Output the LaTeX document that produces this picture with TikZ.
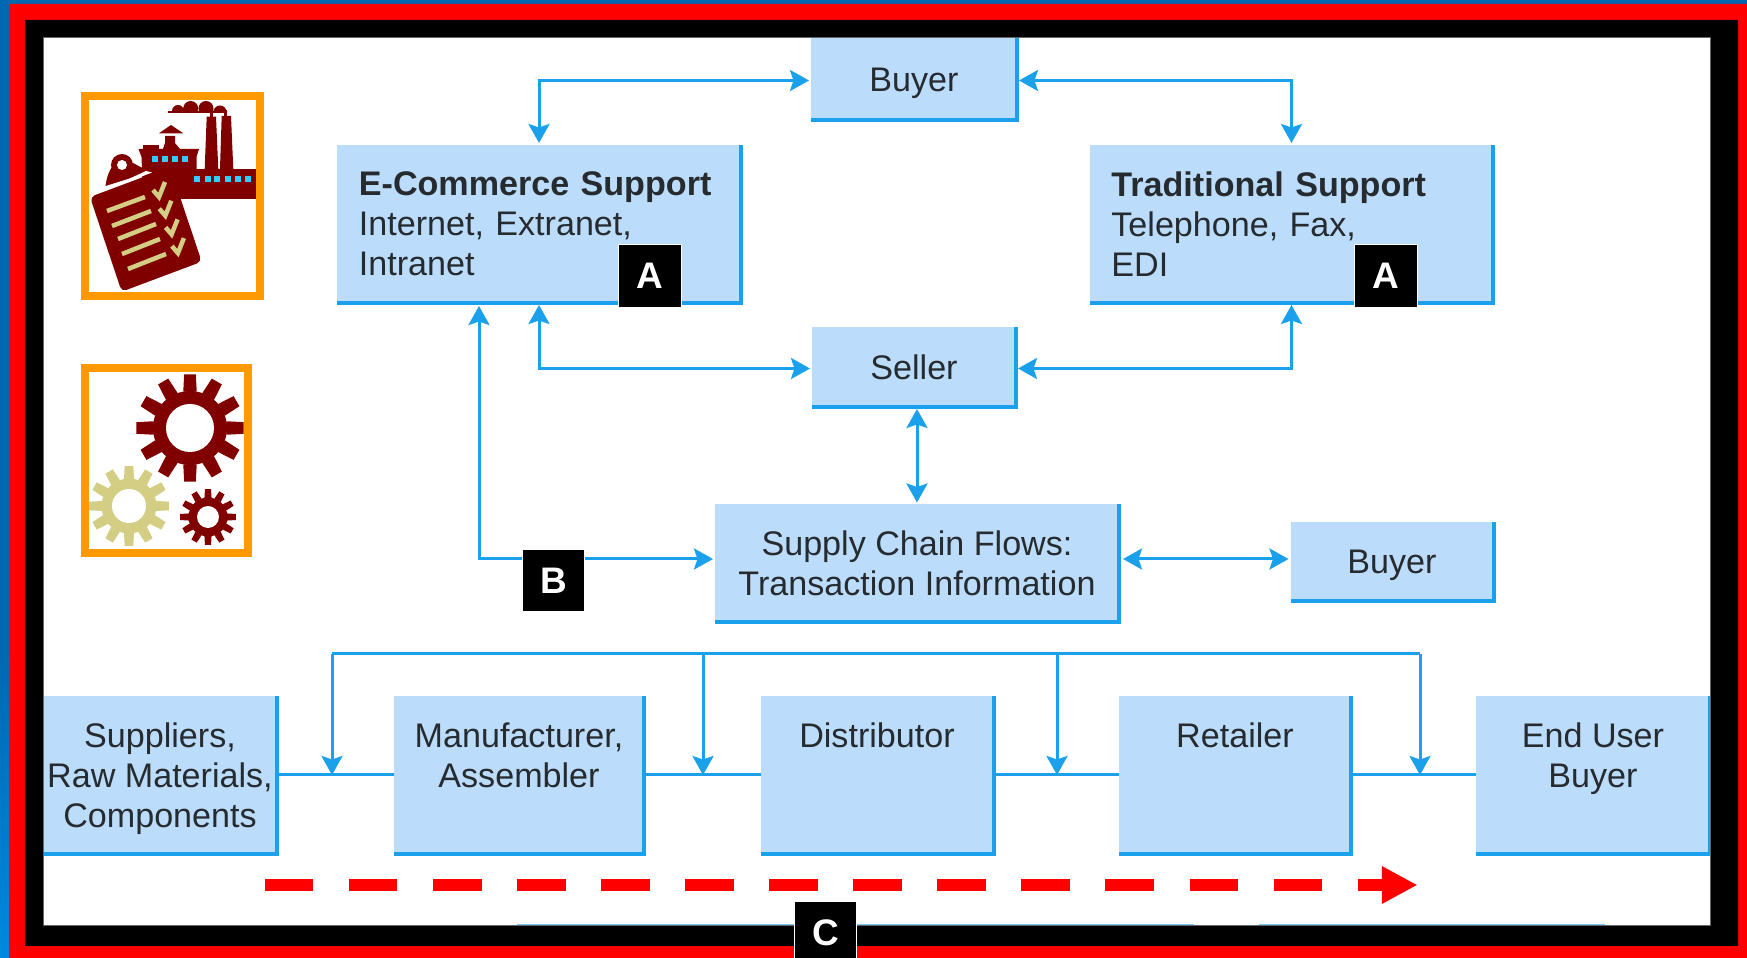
\documentclass[tikz,border=0pt]{standalone}
\usepackage{fontspec}
\setmainfont{Liberation Sans}
\usepackage{xcolor}
\usetikzlibrary{arrows.meta}
\definecolor{boxblue}{HTML}{BBDCFA}
\definecolor{linkblue}{HTML}{1BA1EC}
\definecolor{labelgrey}{HTML}{262B30}
\definecolor{deepred}{HTML}{800000}
\definecolor{khaki}{HTML}{D4CE85}
\definecolor{winblue}{HTML}{33CCFF}
\definecolor{iconorange}{HTML}{FF9900}
\definecolor{sideblue}{HTML}{0068B0}
\definecolor{sidebright}{HTML}{0088E0}
\tikzset{
 box/.style 2 args={fill=boxblue, inner sep=0, outer sep=0, text=labelgrey, align=center,
   minimum width=#1*0.01cm, minimum height=#2*0.01cm, font=\fontsize{9.7}{11.3}\selectfont},
 edge/.style={linkblue, line width=.04cm},
 link/.style={linkblue, line width=.03cm},
 conn/.style={link, >={Stealth[length=.19cm,width=.21cm,inset=.035cm]}, shorten >=.02cm, shorten <=.02cm},
 badge/.style={fill=black, draw=white, line width=.01cm, text=white, inner sep=0, minimum size=.62cm,
   font=\fontsize{10.5}{11}\selectfont\bfseries},
 iconframe/.style={iconorange, line width=.08cm},
}
\begin{document}
\begin{tikzpicture}[x=.01cm, y=-.01cm]
\useasboundingbox (0,0) rectangle (1747,958);
\fill[white] (0,0) rectangle (1747,958);
% boxes
\node[box={206}{82}, text depth=0pt] (buyerTop) at (914,79) {\raisebox{-.3pt}{Buyer}};
\node[box={404}{158}, text width=3.6cm, align=left] (ecom) at (539,224)
  {\textbf{E-Commerce Support}\\Internet, Extranet,\\Intranet};
\node[box={403}{158}, text width=3.6cm, align=left] (trad) at (1291.5,224)
  {\textbf{Traditional Support}\\Telephone, Fax,\\EDI};
\node[box={204}{80}] (seller) at (914,367) {Seller};
\node[box={404}{118}] (supply) at (917,563.5) {Supply Chain Flows:\\Transaction Information};
\node[box={203}{79}, text depth=0pt] (buyerSide) at (1392,561.5) {Buyer};
\node[box={233}{158}, text depth=0pt] (suppliers) at (160,775) {Suppliers,\\Raw Materials,\\Components};
\node[box={250}{158}] (maker) at (519,775) {Manufacturer,\\Assembler\\~};
\node[box={233}{158}] (distributor) at (877,775) {Distributor\\~\\~};
\node[box={232}{158}] (retailer) at (1235,775) {Retailer\\~\\~};
\node[box={234}{158}] (endUser) at (1593,775) {End User\\Buyer\\~};
\foreach \n in {buyerTop,ecom,trad,seller,supply,buyerSide,suppliers,maker,distributor,retailer,endUser} {
 \draw[edge] (\n.north east) |- (\n.south west);
}
% remains of the boxes under the frame
\fill[linkblue!60] (517,924) rectangle (1194,927);
\fill[linkblue!60] (1259,924) rectangle (1605,927);
% links
\coordinate (ecomIn) at (479,304);
\coordinate (supplyIn) at (715,559);
\coordinate (supplyOut) at (1121,559);
\draw[conn,<->] ([yshift=-.015cm]buyerTop.west) -| (ecom.north);
\draw[conn,<->] ([yshift=-.015cm]buyerTop.east) -| (trad.north);
\draw[conn,<->] ([yshift=-.015cm]seller.west) -| (ecom.south);
\draw[conn,<->] ([yshift=-.015cm]seller.east) -| (trad.south);
\draw[conn,<->] (supply.north |- seller.south) -- (supply.north);
\draw[conn,<->] (ecomIn) |- (supplyIn);
\draw[conn,<->] (supplyOut) -- (buyerSide.west |- supplyOut);
\draw[link] (suppliers.east) -- (maker.west);
\draw[link] (maker.east) -- (distributor.west);
\draw[link] (distributor.east) -- (retailer.west);
\draw[link] (retailer.east) -- (endUser.west);
\coordinate (busA) at (332,654);
\coordinate (busB) at (703,654);
\coordinate (busC) at (1057,654);
\coordinate (busD) at (1420,654);
\draw[link] (busA) -- (busD);
\foreach \n/\x in {A/332,B/703,C/1057,D/1420} {
 \coordinate (drop\n) at (\x,775);
 \draw[conn,->,shorten <=0pt,shorten >=0pt] (bus\n) -- (drop\n);
}
% flow arrow
\coordinate (flowStart) at (265,885);
\coordinate (flowEnd) at (1417.5,885);
\draw[red, line width=.12cm, dash pattern=on .484cm off .356cm, -{Triangle[length=.355cm,width=.35cm]}] (flowStart) -- (flowEnd);
% frame
\fill[sideblue] (0,0) rectangle (1747,4);
\fill[sideblue] (0,0) rectangle (9,650);
\shade[top color=sideblue, bottom color=sidebright] (0,650) rectangle (9,958);
\fill[red, even odd rule] (9,4) rectangle (1747,958) (25,20) rectangle (1738,946);
\fill[black, even odd rule] (25,20) rectangle (1738,946) (43,38) rectangle (1710,926);
\draw[black!60, line width=.01cm] (43,38) rectangle (1710,926);
% badges
\node[badge] (badgeA) at (650,276) {A};
\node[badge] (badgeAA) at (1386,276) {A};
\node[badge] (badgeB) at (553.5,580.5) {B};
\node[badge] (badgeC) at (825.5,933) {C};
% factory icon
\draw[iconframe] (85,96) rectangle (260,296);
\fill[deepred] (142,169) rectangle (256,199);
\fill[deepred] (138.5,149) -- (199,149) -- (196.5,157) -- (196.5,169) -- (142,169) -- (141.5,157) -- cycle;
\fill[deepred] (142.7,145.3) rectangle (159,149);
\fill[deepred] (165,136) -- (175,136) -- (175,143) -- (180,149) -- (163,149) -- (165,143) -- cycle;
\fill[deepred] (159,133.3) -- (171,125) -- (183.3,133.3) -- cycle;
\fill[deepred] (206.7,116.7) -- (216,116.7) -- (218.3,169) -- (204.7,169) -- cycle;
\fill[deepred] (221.7,116) -- (231,116) -- (233.3,169) -- (220,169) -- cycle;
\begin{scope}
\clip (165,95) rectangle (232,112.5);
\fill[deepred] (190.7,108.5) circle (7.5) (206,108.5) circle (7.5) (220,112) circle (6.5) (178,111) circle (6);
\fill[deepred] (168,111) rectangle (225,113);
\end{scope}
\fill[deepred] (210,112) rectangle (213,117);
\fill[deepred] (224,110) rectangle (227,117);
\foreach \x/\y in {155/159,165/159,175/159,185/159,197/179,208/179,217/179,228/179,238/179,248/179} {
 \fill[winblue] (\x-3,\y-3) rectangle (\x+3,\y+3);
}
% clipboard
\fill[deepred, rounded corners=.05cm] (90,197) -- (170,167) -- (201.7,261.7) -- (121.7,291.7) -- cycle;
\fill[deepred] (105.5,186) .. controls (107,175) and (110,170) .. (112,167) -- (133,163) -- (150,172) -- cycle;
\fill[deepred] (122,165) circle (11);
\fill[white] (122,165) circle (5);
\fill[white] (106,189.5) -- (146,171) -- (152,172.5) -- (112,188) -- cycle;
\foreach \xa/\ya/\xb/\yb in {107/211/145/197,112/226/151/211,118/239/156/224,122/254/160/239,128/269/166/254} {
 \draw[khaki, line width=.045cm] (\xa,\ya) -- (\xb,\yb);
}
\foreach \i in {0,...,3} {
 \draw[khaki, line width=.045cm] (153+6.3*\i,190+18.7*\i) -- (159+6.3*\i,197+18.7*\i) -- (165+6.3*\i,182+18.7*\i);
}
% gears icon
\draw[iconframe] (85,368) rectangle (248,553);
\foreach \cx/\cy/\rout/\rin/\rhole/\col in {190/428/54/37/24/deepred,129/506/40/27.5/17/khaki,208/517/28/19.5/11/deepred} {
 \begin{scope}[shift={(\cx,\cy)}]
 \fill[\col] (0,0) circle (\rin);
 \foreach \a in {0,30,...,330} {
  \fill[\col] ({\a-10.5}:\rin) -- ({\a-6.2}:\rout) -- ({\a+6.2}:\rout) -- ({\a+10.5}:\rin) -- cycle;
 }
 \fill[white] (0,0) circle (\rhole);
 \end{scope}
}
\end{tikzpicture}
\end{document}
